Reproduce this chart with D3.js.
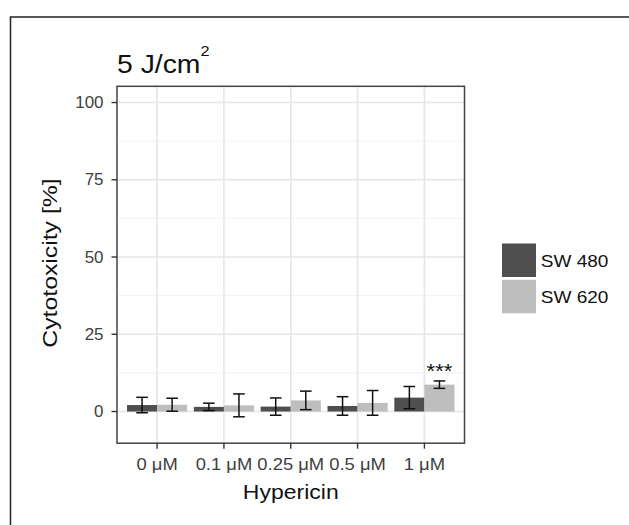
<!DOCTYPE html>
<html>
<head>
<meta charset="utf-8">
<script src="https://cdn.jsdelivr.net/npm/d3@7"></script>
<style>
  html, body { margin: 0; padding: 0; background: #fff; }
  svg { display: block; font-family: "Liberation Sans", Arial, Helvetica, sans-serif; }
</style>
</head>
<body>
<svg id="chart" width="629" height="525"></svg>
<script>
// ---- data ----
const categories = ["0 μM", "0.1 μM", "0.25 μM", "0.5 μM", "1 μM"];
const seriesNames = ["SW 480", "SW 620"];
const sw480 = [2.1, 1.5, 1.6, 1.8, 4.5];
const sw480Err = [2.5, 1.2, 2.8, 3.0, 3.6];
const sw620 = [2.2, 2.0, 3.6, 2.8, 8.7];
const sw620Err = [2.1, 3.7, 3.0, 4.0, 1.2];
const sw620Signif = ["", "", "", "", "***"];
const yTicks = [0, 25, 50, 75, 100];
const yMinorTicks = [12.5, 37.5, 62.5, 87.5];
const yLimits = [-5, 100];
const fillColors = ["#4f4f4f", "#bebebe"];

const titleText = "5 J/cm";
const titleSup = "2";
const xTitle = "Hypericin";
const yTitle = "Cytotoxicity [%]";

// ---- layout ----
const svg = d3.select("#chart");
svg.append("rect").attr("width", 629).attr("height", 525).attr("fill", "#fff");

// outer frame (cropped figure border)
svg.append("path").attr("d", "M10.5,525 V17 H629")
  .attr("fill", "none").attr("stroke", "#222").attr("stroke-width", 1.5);

const panel = { left: 117, right: 464.5, top: 86.3, bottom: 443.2 };
const span = yLimits[1] - yLimits[0];
const y = d3.scaleLinear()
  .domain([yLimits[0] - 0.05 * span, yLimits[1] + 0.05 * span])
  .range([panel.bottom, panel.top]);

// emulate ggplot discrete expansion (0.6 units each side)
const unit = (panel.right - panel.left) / (categories.length - 1 + 1.2);
const xc = d3.scalePoint().domain(categories)
  .range([panel.left + 0.6 * unit, panel.right - 0.6 * unit]);
const sub = d3.scaleBand().domain(seriesNames).range([-0.45 * unit, 0.45 * unit]);

const g = svg.append("g");

// grid
g.selectAll("line.minor").data(yMinorTicks).join("line")
  .attr("x1", panel.left).attr("x2", panel.right)
  .attr("y1", d => y(d)).attr("y2", d => y(d))
  .attr("stroke", "#efefef").attr("stroke-width", 0.9);
g.selectAll("line.majorY").data(yTicks).join("line")
  .attr("x1", panel.left).attr("x2", panel.right)
  .attr("y1", d => y(d)).attr("y2", d => y(d))
  .attr("stroke", "#e6e6e6").attr("stroke-width", 1.6);
g.selectAll("line.majorX").data(categories).join("line")
  .attr("x1", d => xc(d)).attr("x2", d => xc(d))
  .attr("y1", panel.top).attr("y2", panel.bottom)
  .attr("stroke", "#e6e6e6").attr("stroke-width", 1.6);

// bars
const rows = [];
categories.forEach((c, i) => {
  rows.push({ cat: c, s: seriesNames[0], v: sw480[i], e: sw480Err[i], sig: "", col: fillColors[0] });
  rows.push({ cat: c, s: seriesNames[1], v: sw620[i], e: sw620Err[i], sig: sw620Signif[i], col: fillColors[1] });
});

g.selectAll("rect.bar").data(rows).join("rect")
  .attr("x", d => xc(d.cat) + sub(d.s))
  .attr("width", sub.bandwidth())
  .attr("y", d => y(Math.max(0, d.v)))
  .attr("height", d => Math.abs(y(0) - y(d.v)))
  .attr("fill", d => d.col);

// error bars
const capHalf = 5.8;
const eb = g.selectAll("g.eb").data(rows).join("g")
  .attr("transform", d => `translate(${xc(d.cat) + sub(d.s) + sub.bandwidth() / 2},0)`);
eb.append("line").attr("x1", 0).attr("x2", 0)
  .attr("y1", d => y(d.v + d.e)).attr("y2", d => y(d.v - d.e));
eb.append("line").attr("x1", -capHalf).attr("x2", capHalf)
  .attr("y1", d => y(d.v + d.e)).attr("y2", d => y(d.v + d.e));
eb.append("line").attr("x1", -capHalf).attr("x2", capHalf)
  .attr("y1", d => y(d.v - d.e)).attr("y2", d => y(d.v - d.e));
eb.selectAll("line").attr("stroke", "#111").attr("stroke-width", 1.5);

// helper for slightly wide text
function txt(parent, str, xp, yp, opts) {
  const o = Object.assign({ size: 14, sx: 1.2, anchor: "start", fill: "#000", rot: 0 }, opts || {});
  return parent.append("text")
    .attr("transform", `translate(${xp},${yp})` + (o.rot ? ` rotate(${o.rot})` : "") + ` scale(${o.sx},1)`)
    .attr("text-anchor", o.anchor)
    .attr("font-size", o.size)
    .attr("fill", o.fill)
    .text(str);
}

// significance
rows.filter(d => d.sig).forEach(d => {
  txt(g, d.sig, xc(d.cat) + sub(d.s) + sub.bandwidth() / 2, 378, { size: 21, sx: 1.05, anchor: "middle", fill: "#111" });
});

// panel border
g.append("rect")
  .attr("x", panel.left).attr("y", panel.top)
  .attr("width", panel.right - panel.left).attr("height", panel.bottom - panel.top)
  .attr("fill", "none").attr("stroke", "#444").attr("stroke-width", 1.5);

// y axis ticks and labels
yTicks.forEach(t => {
  g.append("line").attr("x1", panel.left - 5.5).attr("x2", panel.left)
    .attr("y1", y(t)).attr("y2", y(t)).attr("stroke", "#333").attr("stroke-width", 1.4);
  txt(g, d3.format("d")(t), panel.left - 13.5, y(t) + 5.6, { size: 16, sx: 1.06, anchor: "end", fill: "#404040" });
});

// x axis ticks and labels
categories.forEach(c => {
  g.append("line").attr("x1", xc(c)).attr("x2", xc(c))
    .attr("y1", panel.bottom).attr("y2", panel.bottom + 5.5).attr("stroke", "#333").attr("stroke-width", 1.4);
  txt(g, c, xc(c), 469.8, { size: 16, sx: 1.15, anchor: "middle", fill: "#404040" });
});

// axis titles
txt(g, xTitle, (panel.left + panel.right) / 2, 498.5, { size: 20, sx: 1.15, anchor: "middle", fill: "#111" });
txt(g, yTitle, 57, 263, { size: 20, sx: 1.24, anchor: "middle", rot: -90, fill: "#111" });

// title
const tt = g.append("text")
  .attr("transform", `translate(117,72.5) scale(1.09,1)`)
  .attr("font-size", 26).attr("fill", "#111");
tt.append("tspan").text(titleText);
tt.append("tspan").attr("font-size", 15).attr("dy", -16.5).text(titleSup);

// legend
const legend = g.append("g");
seriesNames.forEach((s, i) => {
  const ky = 243.5 + i * 36.3;
  legend.append("rect").attr("x", 502).attr("y", ky).attr("width", 34).attr("height", 33.5)
    .attr("fill", fillColors[i]);
  txt(legend, s, 540.7, ky + 23.5, { size: 17, sx: 1.12, anchor: "start", fill: "#111" });
});
</script>
</body>
</html>
